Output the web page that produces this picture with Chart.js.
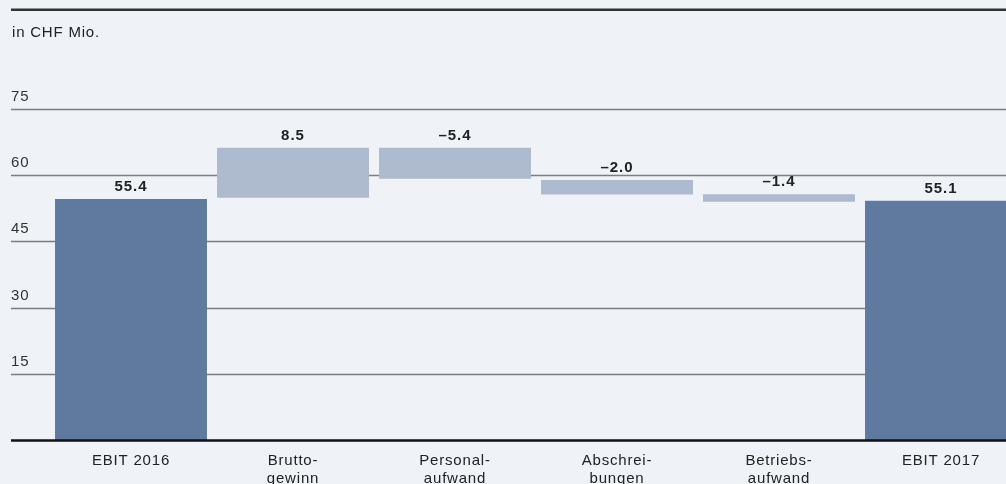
<!DOCTYPE html>
<html>
<head>
<meta charset="utf-8">
<script src="https://cdn.jsdelivr.net/npm/chart.js@4/dist/chart.umd.min.js"></script>
<style>
  html, body { margin: 0; padding: 0; background: #eff3f7; overflow: hidden; }
  #wrap { width: 1022px; height: 484px; }
</style>
</head>
<body>
<div id="wrap"><canvas id="myChart" width="1022" height="484"></canvas></div>
<script>
// data
const categories = [['EBIT 2016'], ['Brutto-', 'gewinn'], ['Personal-', 'aufwand'], ['Abschrei-', 'bungen'], ['Betriebs-', 'aufwand'], ['EBIT 2017']];
const barStart = [0, 54.9, 59.2, 55.6, 54.0, 0];
const barEnd = [54.6, 66.2, 66.2, 58.9, 55.7, 54.2];
const valueLabels = ['55.4', '8.5', '–5.4', '–2.0', '–1.4', '55.1'];
const isTotal = [true, false, false, false, false, true];
const yTicks = [0, 15, 30, 45, 60, 75];
const unitLabel = 'in CHF Mio.';

const FONT = '"Liberation Sans", Arial, Helvetica, sans-serif';
const darkBlue = '#5f7a9e';
const lightBlue = '#aebbce';

const bars = barStart.map((s, i) => [s, barEnd[i]]);

// gridlines, tick labels, top rule and the unit text
const decorPlugin = {
    id: 'decor',
    beforeDraw: (chart) => {
        chart.ctx.letterSpacing = '0.8px';
    },
    beforeDatasetsDraw: (chart) => {
        const ctx = chart.ctx;
        const y = chart.scales.y;
        const w = chart.width;
        ctx.save();
        // top rule
        ctx.strokeStyle = '#333333';
        ctx.lineWidth = 2.5;
        ctx.beginPath();
        ctx.moveTo(11, 9.7);
        ctx.lineTo(w, 9.7);
        ctx.stroke();

        ctx.font = '15px ' + FONT;
        ctx.fillStyle = '#222222';
        ctx.textAlign = 'left';
        ctx.textBaseline = 'alphabetic';
        ctx.fillText(unitLabel, 12, 37);

        ctx.strokeStyle = '#7d7d7d';
        ctx.lineWidth = 1.3;
        y.ticks.forEach(t => {
            if (t.value === 0) return;
            const py = Math.round(y.getPixelForValue(t.value)) + 0.5;
            ctx.beginPath();
            ctx.moveTo(11, py);
            ctx.lineTo(w, py);
            ctx.stroke();
            ctx.fillStyle = '#333333';
            ctx.fillText(String(t.value), 11, py - 8.5);
        });
        ctx.restore();
    },
    afterDatasetsDraw: (chart) => {
        const ctx = chart.ctx;
        const y = chart.scales.y;
        ctx.save();
        // base line
        const py0 = y.getPixelForValue(0);
        ctx.strokeStyle = '#111111';
        ctx.lineWidth = 2.3;
        ctx.beginPath();
        ctx.moveTo(11, py0 + 0.5);
        ctx.lineTo(chart.width, py0 + 0.5);
        ctx.stroke();

        // value labels above the bars
        const meta = chart.getDatasetMeta(0);
        ctx.font = 'bold 15px ' + FONT;
        ctx.fillStyle = '#222222';
        ctx.textAlign = 'center';
        ctx.textBaseline = 'alphabetic';
        ctx.letterSpacing = '1px';
        meta.data.forEach((bar, i) => {
            const top = Math.min(bar.y, bar.base);
            ctx.fillText(valueLabels[i], bar.x, top - 8);
        });
        ctx.restore();
    }
};

var ctx = document.getElementById('myChart').getContext('2d');
var chart = new Chart(ctx, {
    type: 'bar',
    data: {
        labels: categories,
        datasets: [{
            data: bars,
            backgroundColor: isTotal.map(t => t ? darkBlue : lightBlue),
            borderWidth: 0,
            borderSkipped: false,
            barPercentage: 0.938,
            categoryPercentage: 1
        }]
    },
    options: {
        responsive: false,
        devicePixelRatio: 1,
        animation: false,
        layout: {
            padding: { top: 109, left: 50, right: 0, bottom: 0 }
        },
        plugins: {
            legend: { display: false },
            tooltip: { enabled: false },
            title: { display: false }
        },
        scales: {
            x: {
                grid: { display: false, drawTicks: false },
                border: { display: false },
                ticks: {
                    color: '#222222',
                    font: { family: FONT, size: 15, lineHeight: 1.2 },
                    padding: 11.5,
                    maxRotation: 0,
                    autoSkip: false
                },
                afterFit: (scale) => { scale.height = 44; }
            },
            y: {
                display: false,
                min: 0,
                max: 75,
                afterBuildTicks: (scale) => {
                    scale.ticks = yTicks.map(v => ({ value: v }));
                }
            }
        }
    },
    plugins: [decorPlugin]
});
</script>
</body>
</html>
